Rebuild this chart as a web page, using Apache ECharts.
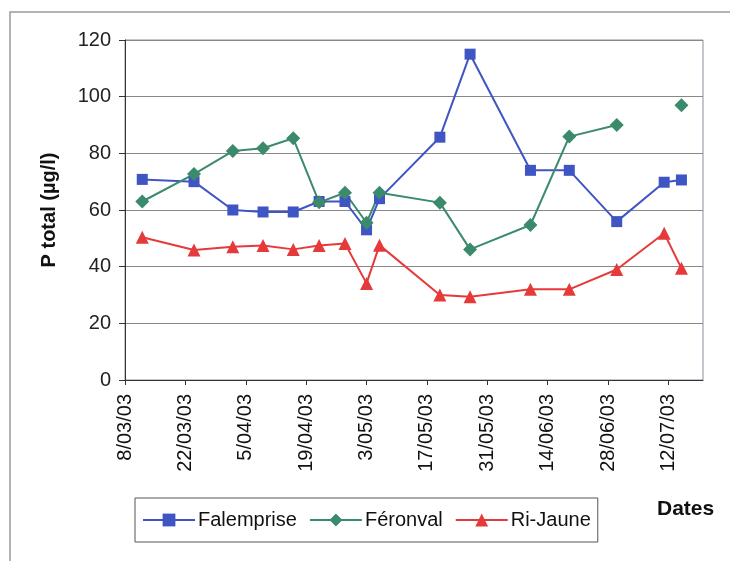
<!DOCTYPE html>
<html>
<head>
<meta charset="utf-8">
<script src="https://cdn.jsdelivr.net/npm/echarts@6/dist/echarts.min.js"></script>
<style>
  html, body { margin: 0; padding: 0; background: #fff; }
  #chart { width: 730px; height: 561px; }
</style>
</head>
<body>
<div id="chart"></div>
<script>
(function () {
  var dates = ['12/03/03', '24/03/03', '2/04/03', '9/04/03', '16/04/03', '22/04/03', '28/04/03', '3/05/03',
    '6/05/03', '20/05/03', '27/05/03', '10/06/03', '19/06/03', '30/06/03', '11/07/03', '15/07/03'];
  var falemprise = [70.8, 70, 60, 59.3, 59.3, 63, 63, 53, 64, 85.7, 115, 74, 74, 55.9, 69.8, 70.6];
  var feronval = [63, 72.7, 80.8, 81.8, 85.3, 62.7, 66.1, 55.5, 66.1, 62.6, 46.1, 54.7, 85.9, 90, null, 97];
  var riJaune = [50.4, 45.9, 47, 47.5, 46.1, 47.5, 48.2, 34.1, 47.6, 30, 29.4, 32, 32, 39, 51.8, 39.4];
  var axisStart = '8/03/03';
  var axisEnd = '20/07/03';
  var tickDays = 14;

  var DAY = 86400000;
  function toUtc(s) {
    var p = s.split('/');
    return Date.UTC(2000 + +p[2], +p[1] - 1, +p[0]);
  }
  var base = toUtc(axisStart);
  function offset(s) { return Math.round((toUtc(s) - base) / DAY); }
  function pad(n) { return n < 10 ? '0' + n : '' + n; }
  function pairs(values) {
    return values.map(function (v, i) { return [offset(dates[i]), v]; });
  }

  var font = '"Liberation Sans", Arial, sans-serif';
  var blue = '#3f55c4';
  var green = '#3b8a6c';
  var red = '#e63a3a';

  var chart = echarts.init(document.getElementById('chart'), null, { renderer: 'canvas' });
  chart.setOption({
    animation: false,
    textStyle: { fontFamily: font },
    grid: {
      left: 125, top: 40, right: 27, bottom: 181,
      show: true, borderColor: '#8c8c9c', borderWidth: 1
    },
    xAxis: {
      type: 'value',
      min: 0,
      max: offset(axisEnd),
      interval: tickDays,
      axisLine: { lineStyle: { color: '#333', width: 1 } },
      axisTick: { show: true, length: 5, lineStyle: { color: '#333' } },
      splitLine: { show: false },
      axisLabel: {
        rotate: 90,
        margin: 14,
        fontSize: 20,
        color: '#111',
        showMaxLabel: false,
        formatter: function (v) {
          if (v % tickDays !== 0) return '';
          var d = new Date(base + v * DAY);
          return d.getUTCDate() + '/' + pad(d.getUTCMonth() + 1) + '/' + pad(d.getUTCFullYear() % 100);
        }
      }
    },
    yAxis: {
      type: 'value',
      min: 0,
      max: 120,
      interval: 20,
      name: 'P total (µg/l)',
      nameLocation: 'middle',
      nameGap: 66,
      nameTextStyle: { fontSize: 20, fontWeight: 'bold', color: '#111' },
      axisLine: { show: true, lineStyle: { color: '#333', width: 1 } },
      axisTick: { show: true, length: 6, lineStyle: { color: '#333' } },
      splitLine: { lineStyle: { color: '#888', width: 1 } },
      axisLabel: { fontSize: 20, color: '#222', margin: 14 }
    },
    legend: {
      left: 135,
      top: 498,
      padding: [12, 7, 12, 7],
      borderColor: '#555',
      borderWidth: 1,
      itemWidth: 52,
      itemHeight: 16,
      itemGap: 12,
      textStyle: { fontSize: 20, color: '#111', padding: [0, 0, 0, -2] },
      data: ['Falemprise', 'Féronval', 'Ri-Jaune']
    },
    graphic: [
      {
        type: 'rect',
        shape: { x: 10, y: 12, width: 760, height: 600 },
        style: { fill: 'none', stroke: '#9a9a9a', lineWidth: 1.5 },
        silent: true
      },
      {
        type: 'text',
        left: 657,
        top: 499,
        style: { text: 'Dates', fontSize: 21, fontWeight: 'bold', fill: '#111', font: 'bold 21px ' + font }
      }
    ],
    series: [
      {
        name: 'Falemprise',
        type: 'line',
        data: pairs(falemprise),
        symbol: 'rect',
        symbolSize: 11,
        lineStyle: { color: blue, width: 2 },
        itemStyle: { color: blue }
      },
      {
        name: 'Féronval',
        type: 'line',
        data: pairs(feronval),
        symbol: 'diamond',
        symbolSize: 14,
        connectNulls: false,
        lineStyle: { color: green, width: 2 },
        itemStyle: { color: green }
      },
      {
        name: 'Ri-Jaune',
        type: 'line',
        data: pairs(riJaune),
        symbol: 'triangle',
        symbolSize: 13,
        lineStyle: { color: red, width: 2 },
        itemStyle: { color: red }
      }
    ]
  });
})();
</script>
</body>
</html>
